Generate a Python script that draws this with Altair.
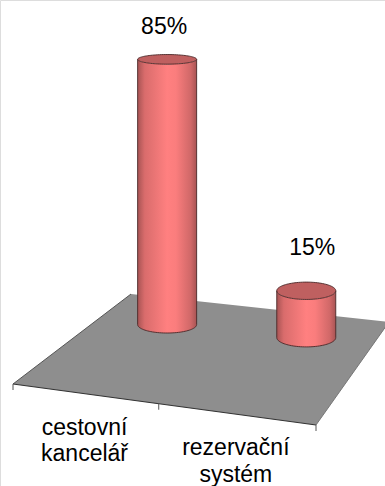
import altair as alt
import numpy as np
import pandas as pd

# Chart values
categories = ["cestovní\nkancelář", "rezervační\nsystém"]
shares = [85, 15]

# Floor of the 3D scene: screen corners (front-left, front-right, back-right, back-left)
FL, FR, BR, BL = (13, 384), (316, 425), (389, 322), (131, 294)
BAR_U = [0.258, 0.765]      # bar centres across the floor
BAR_V = [0.71, 0.74]        # bar centres in depth
PX_PER_PCT = 3.12
RADIUS_X = 29.5


def floor_point(u, v):
    """Perspective map from the unit floor square to the screen."""
    x0, y0 = FL; x1, y1 = FR; x2, y2 = BR; x3, y3 = BL
    dx1, dx2, sx = x1 - x2, x3 - x2, x0 - x1 + x2 - x3
    dy1, dy2, sy = y1 - y2, y3 - y2, y0 - y1 + y2 - y3
    det = dx1 * dy2 - dx2 * dy1
    g = (sx * dy2 - dx2 * sy) / det
    h = (dx1 * sy - sx * dy1) / det
    a, b, c = x1 - x0 + g * x1, x3 - x0 + h * x3, x0
    d, e, f = y1 - y0 + g * y1, y3 - y0 + h * y3, y0
    w = g * u + h * v + 1
    return (a * u + b * v + c) / w, (d * u + e * v + f) / w


X = alt.X("x:Q", scale=alt.Scale(domain=[0, 385], range=[0, 385]), axis=None)
Y = alt.Y("y:Q", scale=alt.Scale(domain=[0, 486], range=[0, 486]), axis=None)
Y2 = alt.Y2("y2:Q")

layers = []

# Floor polygon, filled as an area between its upper and lower outline
corner_x = sorted([FL[0], BL[0], FR[0], BR[0]])


def edge_y(x, pts):
    return float(np.interp(x, [p[0] for p in pts], [p[1] for p in pts]))


floor = pd.DataFrame(
    {
        "x": corner_x,
        "y": [edge_y(x, [FL, BL, BR]) for x in corner_x],
        "y2": [edge_y(x, [FL, FR, BR]) for x in corner_x],
    }
)
layers.append(
    alt.Chart(floor).mark_area(color="#8e8e8e", clip=True).encode(x=X, y=Y, y2=Y2)
)

# Floor edges: dark at the front and left, faint at the back and right
for pts, col, sw in [
    ([BL, FL], "#555555", 1),
    ([FL, FR], "#333333", 1.2),
    ([FR, BR], "#777777", 1),
]:
    df = pd.DataFrame(pts, columns=["x", "y"]).assign(i=[0, 1])
    layers.append(
        alt.Chart(df).mark_line(color=col, strokeWidth=sw).encode(x=X, y=Y, order="i:Q")
    )

# Category tick marks along the front edge
for u in [0, 0.5, 1]:
    tx, ty = floor_point(u, 0)
    df = pd.DataFrame({"x": [tx], "y": [ty], "y2": [ty + 6]})
    layers.append(
        alt.Chart(df).mark_rule(color="#555555", strokeWidth=1).encode(x=X, y=Y, y2=Y2)
    )

body_fill = alt.Gradient(
    gradient="linear",
    x1=0, x2=1, y1=0, y2=0,
    stops=[
        alt.GradientStop(offset=0, color="#a85454"),
        alt.GradientStop(offset=0.12, color="#d96c6c"),
        alt.GradientStop(offset=0.5, color="#ff8080"),
        alt.GradientStop(offset=0.65, color="#fa7d7d"),
        alt.GradientStop(offset=0.9, color="#d06868"),
        alt.GradientStop(offset=1, color="#a85454"),
    ],
)
OUTLINE = "#4a2828"

# Cylinders: body, outline and cap for every share
for u, v, value in zip(BAR_U, BAR_V, shares):
    cx, cy = floor_point(u, v)
    top_y = cy - value * PX_PER_PCT
    ry_base = 9.5 - value * 0.012
    ry_top = ry_base - value * 0.043
    ang = np.linspace(0, np.pi, 49)
    xs = cx - RADIUS_X * np.cos(ang)
    arc = np.sin(ang)

    body = pd.DataFrame({"x": xs, "y": top_y + ry_top * arc, "y2": cy + ry_base * arc})
    layers.append(
        alt.Chart(body).mark_area(color=body_fill).encode(x=X, y=Y, y2=Y2)
    )
    cap = pd.DataFrame({"x": xs, "y": top_y - ry_top * arc, "y2": top_y + ry_top * arc})
    layers.append(
        alt.Chart(cap).mark_area(color="#bf6060").encode(x=X, y=Y, y2=Y2)
    )

    # Closed outline of the cap, plus sides and lower rim of the body
    cap_line = pd.DataFrame(
        {
            "x": np.concatenate([xs, xs[::-1]]),
            "y": np.concatenate([top_y + ry_top * arc, (top_y - ry_top * arc)[::-1]]),
        }
    )
    cap_line["i"] = range(len(cap_line))
    layers.append(
        alt.Chart(cap_line)
        .mark_line(color=OUTLINE, strokeWidth=0.9)
        .encode(x=X, y=Y, order="i:Q")
    )
    rim = pd.DataFrame(
        {
            "x": np.concatenate([[xs[0]], xs, [xs[-1]]]),
            "y": np.concatenate([[top_y], cy + ry_base * arc, [top_y]]),
        }
    )
    rim["i"] = range(len(rim))
    layers.append(
        alt.Chart(rim)
        .mark_line(color=OUTLINE, strokeWidth=0.9)
        .encode(x=X, y=Y, order="i:Q")
    )

# Percentage labels above each cap
pct_rows = []
for u, v, value, dx, dy in zip(BAR_U, BAR_V, shares, [-3, 6], [32, 43]):
    cx, cy = floor_point(u, v)
    pct_rows.append({"x": cx + dx, "y": cy - value * PX_PER_PCT - dy, "t": f"{value}%"})
layers.append(
    alt.Chart(pd.DataFrame(pct_rows))
    .mark_text(font="Liberation Sans", fontSize=23, color="#000000", baseline="middle")
    .encode(x=X, y=Y, text="t:N")
)

# Category labels below the front edge of the floor
cat_rows = []
for i, name in enumerate(categories):
    fx, fy = floor_point(0.25 + 0.5 * i, 0)
    cat_rows.append({"x": fx, "y": fy + 23, "t": name})
layers.append(
    alt.Chart(pd.DataFrame(cat_rows))
    .mark_text(
        font="Liberation Sans",
        fontSize=23,
        color="#000000",
        baseline="top",
        lineBreak="\n",
        lineHeight=26.5,
    )
    .encode(x=X, y=Y, text="t:N")
)

chart = (
    alt.layer(*layers)
    .properties(width=385, height=486, padding=0, autosize=alt.AutoSizeParams(type="none"))
    .configure_view(stroke=None)
    .configure(background="#ffffff")
)
chart.save("out.html", embed_options={"renderer": "svg", "actions": False})
